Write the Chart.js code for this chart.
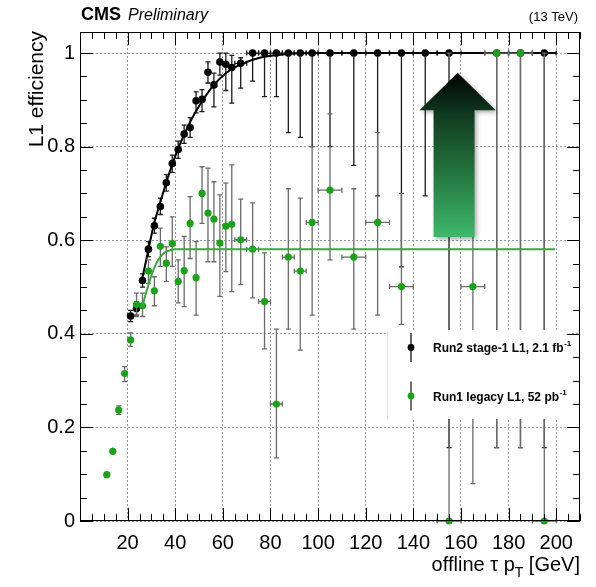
<!DOCTYPE html>
<html><head><meta charset="utf-8">
<script src="https://cdn.jsdelivr.net/npm/chart.js@4"></script>
<style>html,body{margin:0;padding:0;background:#fff}</style>
</head><body>
<canvas id="c" width="596" height="587"></canvas>
<script>
// ---------------- data ----------------
const run2Pt   = [21.25,23.75,26.25,28.75,31.25,33.75,36.25,38.75,41.25,43.75,46.25,48.75,51.25,53.75,56.25,58.75,61.25,63.75,67.5,72.5,77.5,82.5,87.5,92.5,97.5,105,115,125,135,145,155,175,185,195];
const run2Eff  = [0.438,0.454,0.514,0.581,0.631,0.672,0.723,0.764,0.794,0.827,0.841,0.898,0.901,0.959,0.932,0.981,0.976,0.969,0.978,1,1,1,1,1,1,1,1,1,1,1,1,1,1,1];
const run2Low  = [0.426,0.44,0.5,0.565,0.615,0.655,0.705,0.745,0.775,0.807,0.82,0.872,0.875,0.936,0.885,0.953,0.92,0.893,0.925,0.94,0.907,0.907,0.83,0.82,0.80,0.80,0.76,0.695,0.543,0.695,0.157,0.157,0.157,0.157];
const run2High = [0.45,0.468,0.528,0.597,0.647,0.69,0.74,0.782,0.812,0.846,0.862,0.917,0.922,0.981,0.957,1,1,0.995,0.99,1,1,1,1,1,1,1,1,1,1,1,1,1,1,1];
const run2Half = [1.25,1.25,1.25,1.25,1.25,1.25,1.25,1.25,1.25,1.25,1.25,1.25,1.25,1.25,1.25,1.25,1.25,1.25,2.5,2.5,2.5,2.5,2.5,2.5,2.5,5,5,5,5,5,5,5,5,5];

const run1Pt   = [11.25,13.75,16.25,18.75,21.25,23.75,26.25,28.75,31.25,33.75,36.25,38.75,41.25,43.75,46.25,48.75,51.25,53.75,56.25,58.75,61.25,63.75,67.5,72.5,77.5,82.5,87.5,92.5,97.5,105,115,125,135,155,165,175,185,195];
const run1Eff  = [0.099,0.149,0.237,0.315,0.387,0.463,0.46,0.534,0.492,0.587,0.551,0.593,0.512,0.535,0.636,0.52,0.70,0.658,0.645,0.594,0.63,0.634,0.601,0.581,0.469,0.25,0.564,0.534,0.638,0.707,0.564,0.638,0.501,0,0.501,1,1,0];
const run1Low  = [0.094,0.141,0.228,0.298,0.373,0.437,0.437,0.508,0.46,0.544,0.512,0.544,0.466,0.458,0.561,0.44,0.636,0.554,0.554,0.48,0.533,0.49,0.505,0.477,0.368,0.135,0.41,0.365,0.44,0.558,0.41,0.44,0.42,0,0.08,0.157,0.157,0];
const run1High = [0.104,0.157,0.246,0.33,0.402,0.487,0.487,0.558,0.522,0.626,0.586,0.65,0.558,0.608,0.693,0.597,0.757,0.754,0.725,0.697,0.722,0.761,0.688,0.68,0.573,0.41,0.71,0.69,0.80,0.87,0.71,0.83,0.70,1,0.92,1,1,1];
const run1Half = [1.25,1.25,1.25,1.25,1.25,1.25,1.25,1.25,1.25,1.25,1.25,1.25,1.25,1.25,1.25,1.25,1.25,1.25,1.25,1.25,1.25,1.25,2.5,2.5,2.5,2.5,2.5,2.5,2.5,5,5,5,5,5,5,5,5,5];

const run2FitPt  = [25.9,28.7,30.8,33.6,35.7,37.8,41.3,46.2,51,55.9,61.5,68.5,75.5,85,100,200];
const run2FitEff = [0.512,0.579,0.629,0.679,0.715,0.748,0.797,0.852,0.895,0.93,0.958,0.978,0.99,0.997,1.0,1.0];
const run1FitPt  = [26.2,28,30,32,34,36,38,40,45,199.5];
const run1FitEff = [0.458,0.492,0.525,0.55,0.566,0.575,0.579,0.581,0.581,0.581];

const xTickVals = [20,40,60,80,100,120,140,160,180,200];
const yTickVals = [0,0.2,0.4,0.6,0.8,1];
const yTickLabels = ['0','0.2','0.4','0.6','0.8','1'];

const legendLabels = ['Run2 stage-1 L1, 2.1 fb', 'Run1 legacy L1, 52 pb'];
// -------------------------------------------------------------

const FONT = '"Liberation Sans", Arial, Helvetica, sans-serif';
const BLACK = '#000000';
const GREEN = '#19a319';
const GREENLINE = '#39a939';

const toPts = (xs, ys) => xs.map((x,i)=>({x:x, y:ys[i]}));

const errPlugin = {
  id: 'errbars',
  beforeDatasetDraw(chart, args) {
    const ds = chart.data.datasets[args.index];
    if (!ds.errLow) return;
    const ctx = chart.ctx, xs = chart.scales.x, ys = chart.scales.y;
    ctx.save();
    ctx.strokeStyle = ds.errColor;
    ctx.lineWidth = 1.3;
    ds.data.forEach((p, i) => {
      const px = xs.getPixelForValue(p.x), py = ys.getPixelForValue(p.y);
      const lo = ys.getPixelForValue(ds.errLow[i]), hi = ys.getPixelForValue(ds.errHigh[i]);
      const xl = xs.getPixelForValue(p.x - ds.binHalf[i]), xr = xs.getPixelForValue(p.x + ds.binHalf[i]);
      ctx.beginPath();
      ctx.moveTo(xl, py); ctx.lineTo(xr, py);
      ctx.moveTo(px, lo); ctx.lineTo(px, hi);
      ctx.stroke();
      ctx.beginPath();
      if (Math.abs(lo - py) > 4) { ctx.moveTo(px-2.5, lo); ctx.lineTo(px+2.5, lo); }
      if (Math.abs(hi - py) > 4) { ctx.moveTo(px-2.5, hi); ctx.lineTo(px+2.5, hi); }
      if (xr - xl > 10) { ctx.moveTo(xl, py-2.5); ctx.lineTo(xl, py+2.5); ctx.moveTo(xr, py-2.5); ctx.lineTo(xr, py+2.5); }
      ctx.stroke();
    });
    ctx.restore();
  }
};

const decoPlugin = {
  id: 'deco',
  afterDatasetsDraw(chart) {
    const ctx = chart.ctx, xs = chart.scales.x, ys = chart.scales.y, a = chart.chartArea;
    // ---- arrow (annotation) ----
    const ax0 = xs.getPixelForValue(148.5), ax1 = xs.getPixelForValue(165.7);
    const hx0 = xs.getPixelForValue(142.6), hx1 = xs.getPixelForValue(174.6);
    const tipY = ys.getPixelForValue(0.958), baseY = ys.getPixelForValue(0.878), botY = ys.getPixelForValue(0.607);
    const tipX = (hx0 + hx1) / 2;
    ctx.save();
    const g = ctx.createLinearGradient(0, tipY, 0, botY);
    g.addColorStop(0, '#000000');
    g.addColorStop(0.25, '#0f3a1f');
    g.addColorStop(0.6, '#23733d');
    g.addColorStop(1, '#3db86b');
    ctx.shadowColor = 'rgba(0,0,0,0.35)';
    ctx.shadowBlur = 4; ctx.shadowOffsetX = 2; ctx.shadowOffsetY = 2;
    ctx.fillStyle = g;
    ctx.beginPath();
    ctx.moveTo(tipX, tipY);
    ctx.lineTo(hx1, baseY);
    ctx.lineTo(ax1, baseY);
    ctx.lineTo(ax1, botY);
    ctx.lineTo(ax0, botY);
    ctx.lineTo(ax0, baseY);
    ctx.lineTo(hx0, baseY);
    ctx.closePath();
    ctx.fill();
    ctx.restore();

    // ---- legend box ----
    ctx.save();
    ctx.fillStyle = '#ffffff';
    ctx.fillRect(387, 330, 183, 89);
    ctx.strokeStyle = '#e6e6e6'; ctx.lineWidth = 1;
    ctx.beginPath(); ctx.moveTo(387.5, 330); ctx.lineTo(387.5, 419); ctx.stroke();
    const entries = [{y: 347.5, c: BLACK, bar: '#111'}, {y: 396, c: GREEN, bar: '#222'}];
    entries.forEach((e, i) => {
      ctx.strokeStyle = e.bar; ctx.lineWidth = 1.3;
      ctx.beginPath(); ctx.moveTo(411, e.y - 14.5); ctx.lineTo(411, e.y + 14.5); ctx.stroke();
      ctx.fillStyle = e.c;
      ctx.beginPath(); ctx.arc(411, e.y, 3.4, 0, Math.PI*2); ctx.fill();
      ctx.fillStyle = '#000';
      ctx.font = 'bold 12px ' + FONT;
      ctx.textAlign = 'left'; ctx.textBaseline = 'alphabetic';
      ctx.fillText(legendLabels[i], 433, e.y + 4.5);
      const w = ctx.measureText(legendLabels[i]).width;
      ctx.font = 'bold 8px ' + FONT;
      ctx.fillText('-1', 433 + w + 0.5, e.y - 1.5);
    });
    ctx.restore();

    // ---- frame and ticks ----
    ctx.save();
    ctx.strokeStyle = '#000'; ctx.lineWidth = 1;
    ctx.strokeRect(a.left + 0.5, a.top + 0.5, a.right - a.left - 1, a.bottom - a.top - 1);
    ctx.beginPath();
    for (let v = 0; v <= 210; v += 5) {
      const p = Math.round(xs.getPixelForValue(v)) + 0.5;
      const L = (v % 20 === 0) ? 13 : 7;
      ctx.moveTo(p, a.bottom); ctx.lineTo(p, a.bottom - L);
      ctx.moveTo(p, a.top); ctx.lineTo(p, a.top + L);
    }
    for (let k = 0; k <= 20; k++) {
      const v = k * 0.05;
      const p = Math.round(ys.getPixelForValue(v)) + 0.5;
      const L = (k % 4 === 0) ? 13 : 7;
      ctx.moveTo(a.left, p); ctx.lineTo(a.left + L, p);
      ctx.moveTo(a.right, p); ctx.lineTo(a.right - L, p);
    }
    ctx.stroke();
    ctx.restore();

    // ---- texts ----
    ctx.save();
    ctx.fillStyle = '#000';
    ctx.textBaseline = 'alphabetic';
    ctx.textAlign = 'left';
    ctx.font = 'bold 18px ' + FONT;
    ctx.fillText('CMS', 81, 20);
    ctx.font = 'italic 16px ' + FONT;
    ctx.fillText('Preliminary', 128, 20);
    ctx.font = '13px ' + FONT;
    ctx.textAlign = 'right';
    ctx.fillText('(13 TeV)', 578, 21);

    // x title with subscript
    ctx.font = '20px ' + FONT;
    const t3 = ' [GeV]';
    const w3 = ctx.measureText(t3).width;
    ctx.font = '14px ' + FONT;
    const wT = ctx.measureText('T').width;
    ctx.font = '20px ' + FONT;
    const t1 = 'offline \u03C4 p';
    const w1 = ctx.measureText(t1).width;
    const xr = 580, base = 571;
    ctx.textAlign = 'left';
    const x0 = xr - w3 - wT - w1;
    ctx.fillText(t1, x0, base);
    ctx.font = '14px ' + FONT;
    ctx.fillText('T', x0 + w1, base + 6);
    ctx.font = '20px ' + FONT;
    ctx.fillText(t3, x0 + w1 + wT, base);

    // y title
    ctx.translate(43, 31);
    ctx.rotate(-Math.PI / 2);
    ctx.textAlign = 'right';
    ctx.font = '21px ' + FONT;
    ctx.fillText('L1 efficiency', 0, 0);
    ctx.restore();
  }
};

new Chart(document.getElementById('c'), {
  type: 'scatter',
  data: {
    datasets: [
      { label: 'Run1 fit', type: 'line', data: toPts(run1FitPt, run1FitEff), borderColor: GREENLINE, borderWidth: 2,
        pointRadius: 0, cubicInterpolationMode: 'monotone', showLine: true, fill: false, order: 1 },
      { label: 'Run1 legacy L1', data: toPts(run1Pt, run1Eff), backgroundColor: GREEN, borderWidth: 0,
        pointRadius: 3.6, clip: false, order: 2,
        errLow: run1Low, errHigh: run1High, binHalf: run1Half, errColor: '#6a6a6a' },
      { label: 'Run2 fit', type: 'line', data: toPts(run2FitPt, run2FitEff), borderColor: '#000', borderWidth: 2,
        pointRadius: 0, cubicInterpolationMode: 'monotone', showLine: true, fill: false, order: 3 },
      { label: 'Run2 stage-1 L1', data: toPts(run2Pt, run2Eff), backgroundColor: BLACK, borderWidth: 0,
        pointRadius: 3.8, clip: false, order: 4,
        errLow: run2Low, errHigh: run2High, binHalf: run2Half, errColor: '#1a1a1a' }
    ]
  },
  options: {
    responsive: false,
    animation: false,
    devicePixelRatio: 1,
    layout: { padding: { left: 0, top: 32, right: 16, bottom: 0 } },
    plugins: { legend: { display: false }, tooltip: { enabled: false } },
    scales: {
      x: {
        type: 'linear', min: 0, max: 210,
        afterBuildTicks: s => { s.ticks = xTickVals.map(v => ({ value: v })); },
        afterFit: s => { s.height = 66; },
        grid: { color: '#9a9a9a', lineWidth: 1, drawTicks: false },
        border: { display: false, dash: [2, 2] },
        ticks: { color: '#000', font: { family: FONT, size: 20 }, padding: 10, maxRotation: 0, autoSkip: false }
      },
      y: {
        type: 'linear', min: 0, max: 1.045,
        afterBuildTicks: s => { s.ticks = yTickVals.map(v => ({ value: v })); },
        afterFit: s => { s.width = 80; },
        grid: { color: '#9a9a9a', lineWidth: 1, drawTicks: false },
        border: { display: false, dash: [2, 2] },
        ticks: { color: '#000', font: { family: FONT, size: 20 }, padding: 5,
                 callback: (v, i) => yTickLabels[i] }
      }
    }
  },
  plugins: [errPlugin, decoPlugin]
});
</script>
</body></html>
